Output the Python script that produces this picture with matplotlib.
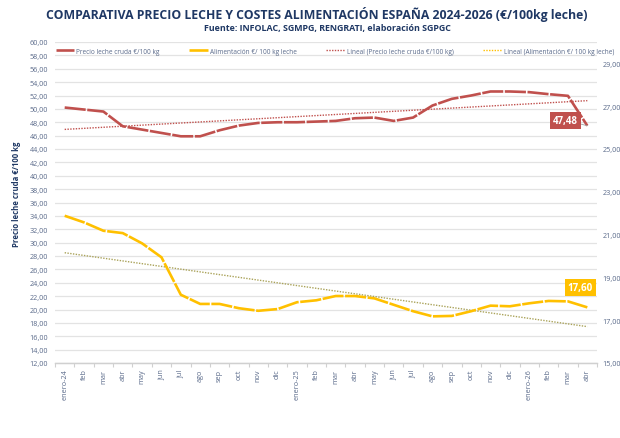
import numpy as np
import matplotlib
matplotlib.use('Agg')
import matplotlib.pyplot as plt

# Months (enero-24 .. abr-26)
meses = ['enero-24', 'feb', 'mar', 'abr', 'may', 'jun', 'jul', 'ago', 'sep', 'oct', 'nov', 'dic',
         'enero-25', 'feb', 'mar', 'abr', 'may', 'jun', 'jul', 'ago', 'sep', 'oct', 'nov', 'dic',
         'enero-26', 'feb', 'mar', 'abr']

# Precio leche cruda (left axis)
precio_leche = [50.2, 49.9, 49.6, 47.4, 46.9, 46.4, 45.9, 45.9, 46.8, 47.5, 47.9, 48.0,
                48.0, 48.1, 48.2, 48.6, 48.7, 48.2, 48.7, 50.5, 51.5, 52.0, 52.6, 52.6,
                52.5, 52.2, 51.95, 47.48]

# Alimentacion (right axis)
alimentacion = [21.88, 21.57, 21.18, 21.07, 20.59, 19.94, 18.19, 17.76, 17.76, 17.56, 17.44, 17.52,
                17.84, 17.93, 18.13, 18.13, 18.02, 17.72, 17.42, 17.18, 17.20, 17.42, 17.68, 17.65,
                17.79, 17.90, 17.88, 17.60]

red = '#c0504d'
yellow = '#ffc000'
trend_yellow = '#aaa35a'
navy = '#1f3864'
tick_col = '#5a6a8a'
grid_col = '#e3e3e3'

plt.rcParams['font.family'] = ['Open Sans', 'DejaVu Sans']

fig = plt.figure(figsize=(6.2, 4.39), dpi=100)
ax = fig.add_axes([55 / 620, 1 - 364 / 439, (597 - 55) / 620, (364 - 43) / 439])
ax2 = ax.twinx()

x = np.arange(len(meses))

# main series
l1, = ax.plot(x, precio_leche, color=red, lw=1.9, dashes=(8, 0.6),
              label='Precio leche cruda €/100 kg', zorder=3)
l2, = ax2.plot(x, alimentacion, color=yellow, lw=1.9, dashes=(8, 0.6),
               label='Alimentación €/ 100 kg leche', zorder=3)

# linear trend lines
c1 = np.polyfit(x, precio_leche, 1)
c2 = np.polyfit(x, alimentacion, 1)
l3, = ax.plot(x, np.polyval(c1, x), color=red, lw=1.0, ls=(0, (1, 1)),
              label='Lineal (Precio leche cruda €/100 kg)', zorder=2)
l4, = ax2.plot(x, np.polyval(c2, x), color=trend_yellow, lw=1.0, ls=(0, (1, 1)),
               label='Lineal (Alimentación €/ 100 kg leche)', zorder=2)
l4_leg = plt.Line2D([], [], color=yellow, lw=1.0, ls=(0, (1, 1)))

# axes
ax.set_xlim(-0.5, len(meses) - 0.5)
ax.set_ylim(12, 60)
ax.set_yticks(np.arange(12, 61, 2))
ax.set_yticklabels([f'{v:.2f}'.replace('.', ',') for v in np.arange(12, 61, 2)])
ax2.set_ylim(15, 30)
ax2.set_yticks(np.arange(15, 30, 2))
ax2.set_yticklabels([f'{v:.2f}'.replace('.', ',') for v in np.arange(15, 30, 2)])

ax.set_xticks(x)
ax.set_xticklabels(meses, rotation=90, fontsize=5.2, color=tick_col)
ax.set_xticks(np.arange(-0.5, len(meses), 1), minor=True)
ax.tick_params(axis='x', which='major', length=0, pad=4)
ax.tick_params(axis='x', which='minor', length=3, color='#d0d0d0', width=0.8)
ax.tick_params(axis='y', length=0, labelsize=5.2, labelcolor=tick_col, pad=5)
ax2.tick_params(axis='y', length=0, labelsize=5.2, labelcolor=tick_col, pad=4)

ax.grid(axis='y', color=grid_col, lw=0.9)
ax.set_axisbelow(True)
for a in (ax, ax2):
    for s in ('top', 'right', 'left'):
        a.spines[s].set_visible(False)
    a.spines['bottom'].set_color('#d0d0d0')
    a.spines['bottom'].set_linewidth(0.9)

ax.set_ylabel('Precio leche cruda €/100 kg', fontsize=5.6, fontweight='bold', color=navy, labelpad=6)
ax.yaxis.set_label_coords(-0.062, 0.53)

# data labels for last points
ax.annotate(f'{precio_leche[-1]:.2f}'.replace('.', ','), xy=(x[-1], precio_leche[-1]),
            xytext=(-16, 4), textcoords='offset points', ha='center', va='center',
            fontsize=7, fontweight='bold', color='white',
            bbox=dict(boxstyle='square,pad=0.3', fc=red, ec='none'),
            arrowprops=dict(arrowstyle='-', color='#a0a0a0', lw=0.6, shrinkA=0, shrinkB=0), zorder=5)
ax2.annotate(f'{alimentacion[-1]:.2f}'.replace('.', ','), xy=(x[-1], alimentacion[-1]),
             xytext=(-5, 14), textcoords='offset points', ha='center', va='center',
             fontsize=7, fontweight='bold', color='white',
             bbox=dict(boxstyle='square,pad=0.3', fc=yellow, ec='none'), zorder=5)

# titles
fig.text(0.511, 1 - 15 / 439, 'COMPARATIVA PRECIO LECHE Y COSTES ALIMENTACIÓN ESPAÑA 2024-2026 (€/100kg leche)',
         ha='center', va='center', fontsize=8.8, fontweight='bold', color=navy)
fig.text(0.528, 1 - 29 / 439, 'Fuente: INFOLAC, SGMPG, RENGRATI, elaboración SGPGC',
         ha='center', va='center', fontsize=6.4, fontweight='bold', color=navy)

leg = fig.legend([l1, l2, l3, l4_leg], [l1.get_label(), l2.get_label(), l3.get_label(), l4.get_label()],
                 loc='center', bbox_to_anchor=(0.54, 1 - 52 / 439), ncol=4, frameon=False,
                 fontsize=4.7, handlelength=2.8, handletextpad=0.3, columnspacing=4.6)
for t in leg.get_texts():
    t.set_color(tick_col)

fig.savefig('out.png', dpi=100)
